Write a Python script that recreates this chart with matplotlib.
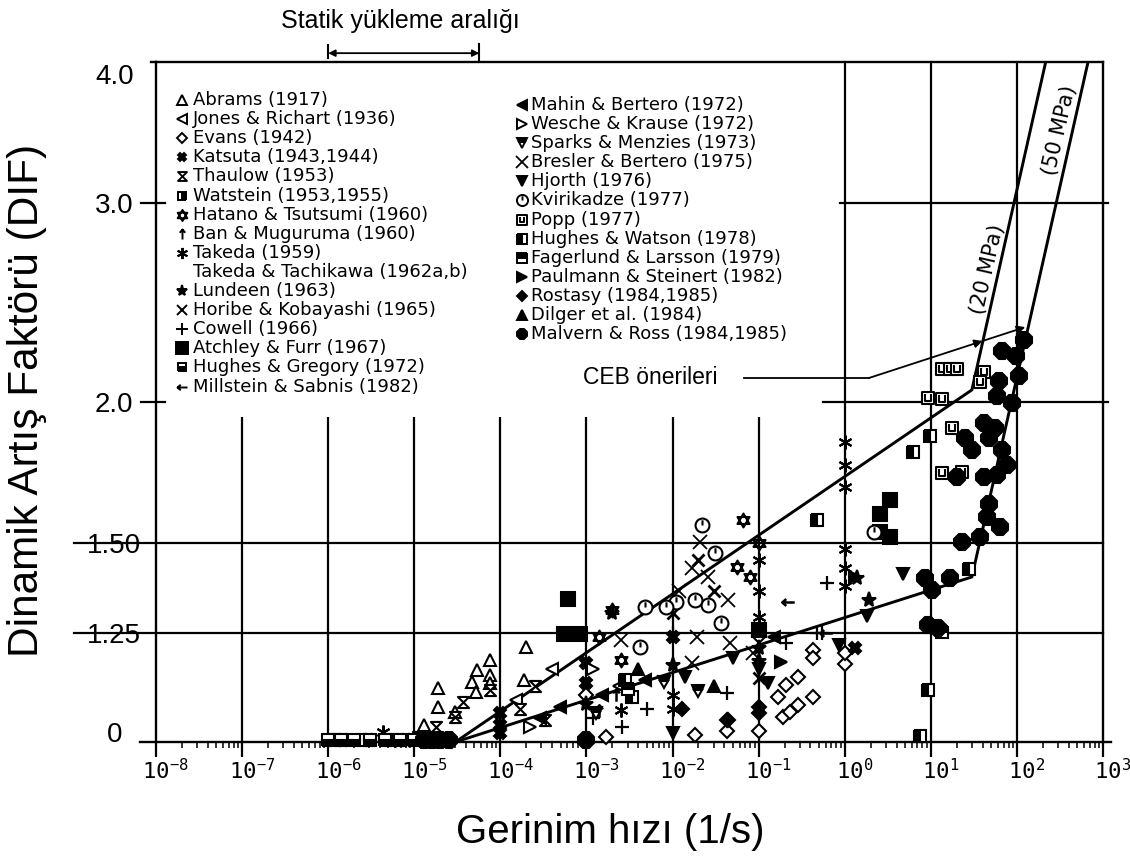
import numpy as np
import matplotlib.pyplot as plt
import matplotlib.transforms as mtransforms
from matplotlib.path import Path
from matplotlib.ticker import LogLocator, NullFormatter, NullLocator

plt.rcParams['font.family'] = ['Liberation Sans', 'DejaVu Sans']
plt.rcParams['mathtext.fontset'] = 'custom'
plt.rcParams['mathtext.rm'] = 'DejaVu Sans Mono'
plt.rcParams['mathtext.it'] = 'DejaVu Sans Mono'

# strain rate (1/s) and DIF values
abrams_x = [1.9e-5, 1.9e-5, 1.3e-5, 7.6e-5, 5.4e-5, 7.6e-5, 4.7e-5, 5.2e-5, 7.6e-5, 1.9e-4, 2.0e-4, 3.0e-5]
abrams_y = [1.116, 1.074, 1.035, 1.182, 1.158, 1.146, 1.130, 1.107, 1.128, 1.135, 1.214, 1.063]
jones_x = [1.5e-4, 4.0e-4, 2.4e-3]
jones_y = [1.09, 1.16, 1.12]
evans_x = [0.17, 0.21, 0.29, 0.19, 0.23, 0.29, 0.43, 0.43, 0.43, 1.0, 1.7e-3, 0.018, 0.1, 0.043, 0.1, 1.0, 1.0e-3, 0.043]
evans_y = [1.096, 1.123, 1.142, 1.052, 1.063, 1.078, 1.096, 1.206, 1.187, 1.172, 1.010, 1.015, 1.023, 1.022, 1.24, 1.20, 1.10, 1.045]
katsuta_x = [1e-4, 1e-4, 1e-4, 1e-3, 1e-3, 1e-2, 1.3, 1.5e-6, 3.0e-6, 8.0e-6]
katsuta_y = [1.061, 1.035, 1.019, 1.175, 1.128, 1.239, 1.21, 1.005, 1.005, 1.005]
thaulow_x = [3.7e-5, 3.0e-5, 1.8e-5, 7.6e-5, 1.7e-4, 3.3e-4, 1.1e-5, 2.5e-4]
thaulow_y = [1.085, 1.052, 1.031, 1.112, 1.07, 1.046, 1.01, 1.12]
watstein_x = [1.2e-6, 2.6e-6, 5.5e-6]
watstein_y = [1.005, 1.005, 1.005]
hatano_x = [0.066, 2.0e-3, 0.056, 0.08, 2.5e-3, 1.4e-3, 0.1]
hatano_y = [1.572, 1.309, 1.429, 1.40, 1.182, 1.239, 1.50]
ban_x = [1.4e-3, 2.2e-3]
ban_y = [1.065, 1.10]
takeda_x = [1.0, 1.0, 1.0, 1.0, 1.0, 1.0, 0.1, 0.1, 0.1, 0.01, 0.01, 2.5e-3, 4.3e-6, 6.0e-6]
takeda_y = [1.844, 1.759, 1.683, 1.482, 1.426, 1.374, 1.45, 1.36, 1.29, 1.10, 1.07, 1.067, 1.02, 1.005]
lundeen_x = [1.4, 1.9, 0.1, 0.1, 0.01, 1e-3, 2.0e-3]
lundeen_y = [1.397, 1.336, 1.21, 1.18, 1.17, 1.08, 1.30]
horibe_x = [0.02, 0.03, 0.1, 0.01]
horibe_y = [1.45, 1.36, 1.14, 1.30]
cowell_x = [0.043, 0.21, 0.62, 0.48, 0.55, 2.6e-3, 0.01, 1.2e-3, 5.0e-3]
cowell_y = [1.105, 1.224, 1.383, 1.249, 1.249, 1.031, 1.25, 1.05, 1.07]
atchley_x = [6.1e-4, 5.5e-4, 8.5e-4, 3.4, 2.6, 3.4, 2.6, 0.1]
atchley_y = [1.339, 1.247, 1.247, 1.638, 1.592, 1.518, 1.534, 1.256]
gregory_x = [1.0e-6, 1.4e-6, 2.0e-6, 3.1e-6, 4.6e-6, 6.8e-6, 1.0e-5]
gregory_y = [1.005, 1.005, 1.005, 1.005, 1.005, 1.005, 1.005]
millstein_x = [0.22, 0.6]
millstein_y = [1.33, 1.25]
mahin_x = [4.9e-4, 4.8e-3, 0.15, 2.9e-4, 1.5e-3]
mahin_y = [1.074, 1.135, 1.239, 1.05, 1.10]
wesche_x = [2.2e-4, 1.2e-3]
wesche_y = [1.031, 1.16]
sparks_x = [1.3e-3, 0.02, 0.008]
sparks_y = [1.06, 1.11, 1.13]
bresler_x = [0.017, 0.044, 0.019, 0.046, 0.017, 0.086, 0.021, 0.026, 2.5e-3, 0.012]
bresler_y = [1.426, 1.336, 1.239, 1.224, 1.175, 1.199, 1.503, 1.40, 1.231, 1.36]
hjorth_x = [4.8, 1.8, 0.85, 0.13, 0.05, 0.014, 0.01, 0.1]
hjorth_y = [1.408, 1.293, 1.219, 1.128, 1.187, 1.142, 1.019, 1.16]
kviri_x = [0.022, 0.031, 4.2e-3, 0.026, 0.018, 0.011, 0.037, 8.5e-3, 4.8e-3, 2.2]
kviri_y = [1.556, 1.47, 1.214, 1.322, 1.336, 1.33, 1.275, 1.317, 1.317, 1.534]
popp_x = [13.5, 16.6, 20, 42, 37, 9.3, 13.5, 17.6, 13.5, 23]
popp_y = [2.139, 2.139, 2.139, 2.126, 2.084, 2.017, 2.013, 1.897, 1.731, 1.734]
hwatson_x = [0.48, 2.8e-3, 3.4e-3, 9.8, 6.2, 9.3, 7.5, 28]
hwatson_y = [1.572, 1.135, 1.096, 1.866, 1.807, 1.112, 1.012, 1.423]
fager_x = [13.5, 3.0e-3]
fager_y = [1.251, 1.115]
paulmann_x = [0.18, 1.3]
paulmann_y = [1.178, 1.40]
rostasy_x = [0.044, 0.1, 0.1, 0.013]
rostasy_y = [1.046, 1.061, 1.074, 1.07]
dilger_x = [4.0e-3, 0.03]
dilger_y = [1.16, 1.12]
malvern_x = [120, 67, 97, 105, 62, 59, 87, 42, 55, 25, 30, 47, 67, 76, 20, 42, 59, 47, 45, 63, 37, 23,
             8.5, 10.3, 16.6, 9.3, 12, 1.3e-5, 1.6e-5, 2.0e-5, 2.5e-5, 1e-3]
malvern_y = [2.27, 2.22, 2.196, 2.109, 2.088, 2.025, 1.997, 1.917, 1.897, 1.859, 1.814, 1.859, 1.814, 1.759,
             1.717, 1.717, 1.724, 1.625, 1.582, 1.55, 1.518, 1.503, 1.397, 1.363, 1.397, 1.269, 1.262,
             1.005, 1.005, 1.005, 1.005, 1.005]

# CEB recommendation curves
ceb20_x = [3e-5, 30, 216]
ceb20_y = [1.0, 2.05, 4.0]
ceb50_x = [3e-5, 30, 670]
ceb50_y = [1.0, 1.40, 4.0]

x_ticks = [1e-8, 1e-7, 1e-6, 1e-5, 1e-4, 1e-3, 1e-2, 1e-1, 1e0, 1e1, 1e2, 1e3]
x_labels = [r'$10^{%d}$' % k for k in range(-8, 4)]
y_ticks = [1.0, 1.25, 1.5, 2.0, 3.0, 4.0]
y_labels = ['0', '1.25', '1.50', '2.0', '3.0', '4.0']

# custom marker shapes
M, L, C = Path.MOVETO, Path.LINETO, Path.CLOSEPOLY
hourglass = Path([(-1, 1), (1, 1), (-1, -1), (1, -1), (-1, 1)], [M, L, L, L, C])
h = np.sqrt(3) / 2
star6 = Path([(0, 1), (-h, -0.5), (h, -0.5), (0, 1), (0, -1), (-h, 0.5), (h, 0.5), (0, -1)],
             [M, L, L, C, M, L, L, C])
clock = Path.make_compound_path(Path.unit_circle(), Path([(0, 0), (0, 0.75)], [M, L]))
up_arrow = Path([(0, -1), (0, 1), (-0.55, 0.35), (0, 1), (0.55, 0.35)], [M, L, M, L, L])
left_arrow = Path([(1, 0), (-1, 0), (-0.35, 0.55), (-1, 0), (-0.35, -0.55)], [M, L, M, L, L])
popp_sq = Path.make_compound_path(
    Path([(-1, -1), (1, -1), (1, 1), (-1, 1), (-1, -1)], [M, L, L, L, C]),
    Path([(-0.45, 0.6), (-0.45, -0.4), (0.45, -0.4), (0.45, 0.6)], [M, L, L, L]))

W = 'white'
styles = {
    'Abrams (1917)': dict(marker='^', mfc=W),
    'Jones & Richart (1936)': dict(marker='<', mfc=W),
    'Evans (1942)': dict(marker='D', mfc=W, ms=7),
    'Katsuta (1943,1944)': dict(marker='X', mfc='k', ms=8),
    'Thaulow (1953)': dict(marker=hourglass, mfc=W, ms=8),
    'Watstein (1953,1955)': dict(marker='s', mfc='k', fillstyle='right', ms=8),
    'Hatano & Tsutsumi (1960)': dict(marker=star6, mfc=W, ms=10),
    'Ban & Muguruma (1960)': dict(marker=up_arrow, mfc='none', mew=1.8),
    'Takeda (1959)': dict(marker=(6, 2, 0), mfc='none', ms=10),
    'Takeda & Tachikawa (1962a,b)': None,
    'Lundeen (1963)': dict(marker='*', mfc='k', ms=11),
    'Horibe & Kobayashi (1965)': dict(marker='x', mfc='none', mew=2.0),
    'Cowell (1966)': dict(marker='+', mfc='none', mew=1.6, ms=10),
    'Atchley & Furr (1967)': dict(marker='s', mfc='k', ms=10),
    'Hughes & Gregory (1972)': dict(marker='s', mfc='k', fillstyle='bottom', ms=8),
    'Millstein & Sabnis (1982)': dict(marker=left_arrow, mfc='none', mew=1.8),
    'Mahin & Bertero (1972)': dict(marker='<', mfc='k'),
    'Wesche & Krause (1972)': dict(marker='>', mfc=W),
    'Sparks & Menzies (1973)': dict(marker='v', mfc='k', fillstyle='top'),
    'Bresler & Bertero (1975)': dict(marker='x', mfc='none', mew=1.3, ms=10),
    'Hjorth (1976)': dict(marker='v', mfc='k'),
    'Kvirikadze (1977)': dict(marker=clock, mfc=W, ms=10),
    'Popp (1977)': dict(marker=popp_sq, mfc=W, ms=9),
    'Hughes & Watson (1978)': dict(marker='s', mfc='k', fillstyle='left', ms=9),
    'Fagerlund & Larsson (1979)': dict(marker='s', mfc='k', fillstyle='top', ms=9),
    'Paulmann & Steinert (1982)': dict(marker='>', mfc='k'),
    'Rostasy (1984,1985)': dict(marker='D', mfc='k', ms=7),
    'Dilger et al. (1984)': dict(marker='^', mfc='k'),
    'Malvern & Ross (1984,1985)': dict(marker='8', mfc='k', ms=12),
}

data = {
    'Abrams (1917)': (abrams_x, abrams_y),
    'Jones & Richart (1936)': (jones_x, jones_y),
    'Evans (1942)': (evans_x, evans_y),
    'Katsuta (1943,1944)': (katsuta_x, katsuta_y),
    'Thaulow (1953)': (thaulow_x, thaulow_y),
    'Watstein (1953,1955)': (watstein_x, watstein_y),
    'Hatano & Tsutsumi (1960)': (hatano_x, hatano_y),
    'Ban & Muguruma (1960)': (ban_x, ban_y),
    'Takeda (1959)': (takeda_x, takeda_y),
    'Lundeen (1963)': (lundeen_x, lundeen_y),
    'Horibe & Kobayashi (1965)': (horibe_x, horibe_y),
    'Cowell (1966)': (cowell_x, cowell_y),
    'Atchley & Furr (1967)': (atchley_x, atchley_y),
    'Hughes & Gregory (1972)': (gregory_x, gregory_y),
    'Millstein & Sabnis (1982)': (millstein_x, millstein_y),
    'Mahin & Bertero (1972)': (mahin_x, mahin_y),
    'Wesche & Krause (1972)': (wesche_x, wesche_y),
    'Sparks & Menzies (1973)': (sparks_x, sparks_y),
    'Bresler & Bertero (1975)': (bresler_x, bresler_y),
    'Hjorth (1976)': (hjorth_x, hjorth_y),
    'Kvirikadze (1977)': (kviri_x, kviri_y),
    'Popp (1977)': (popp_x, popp_y),
    'Hughes & Watson (1978)': (hwatson_x, hwatson_y),
    'Fagerlund & Larsson (1979)': (fager_x, fager_y),
    'Paulmann & Steinert (1982)': (paulmann_x, paulmann_y),
    'Rostasy (1984,1985)': (rostasy_x, rostasy_y),
    'Dilger et al. (1984)': (dilger_x, dilger_y),
    'Malvern & Ross (1984,1985)': (malvern_x, malvern_y),
}

left_col = ['Abrams (1917)', 'Jones & Richart (1936)', 'Evans (1942)', 'Katsuta (1943,1944)',
            'Thaulow (1953)', 'Watstein (1953,1955)', 'Hatano & Tsutsumi (1960)',
            'Ban & Muguruma (1960)', 'Takeda (1959)', 'Takeda & Tachikawa (1962a,b)',
            'Lundeen (1963)', 'Horibe & Kobayashi (1965)', 'Cowell (1966)',
            'Atchley & Furr (1967)', 'Hughes & Gregory (1972)', 'Millstein & Sabnis (1982)']
right_col = ['Mahin & Bertero (1972)', 'Wesche & Krause (1972)', 'Sparks & Menzies (1973)',
             'Bresler & Bertero (1975)', 'Hjorth (1976)', 'Kvirikadze (1977)', 'Popp (1977)',
             'Hughes & Watson (1978)', 'Fagerlund & Larsson (1979)', 'Paulmann & Steinert (1982)',
             'Rostasy (1984,1985)', 'Dilger et al. (1984)', 'Malvern & Ross (1984,1985)']


def mk(st, legend=False):
    kw = dict(ls='none', mec='k', mew=1.5, ms=9, markerfacecoloralt='white')
    kw.update(st)
    if legend:
        kw['ms'] = min(kw['ms'] * 0.8, 8)
        kw['mew'] = min(kw['mew'], 1.4)
    return kw


fig = plt.figure(figsize=(11.3, 8.57), dpi=100)
ax = fig.add_axes([156 / 1130, 115 / 857, 947 / 1130, 680 / 857])
ax.set_xscale('log')
ax.set_yscale('log')
ax.set_xlim(1e-8, 1e3)
ax.set_ylim(1.0, 4.0)
for s in ax.spines.values():
    s.set_linewidth(1.7)

LW = 1.6
# grid lines: short ones below the legend, full ones at the right
for d in x_ticks[1:8]:
    ax.vlines(d, 1.0, 1.94, color='k', lw=LW)
for d in x_ticks[8:11]:
    ax.vlines(d, 1.0, 4.0, color='k', lw=LW)
yt = ax.get_yaxis_transform()
ax.plot([-0.087, 1.0], [1.25, 1.25], transform=yt, color='k', lw=LW, clip_on=False)
ax.plot([-0.087, 1.0], [1.5, 1.5], transform=yt, color='k', lw=LW, clip_on=False)
ax.plot([0.704, 1.005], [2.0, 2.0], transform=yt, color='k', lw=LW, clip_on=False)
ax.plot([0.722, 1.005], [3.0, 3.0], transform=yt, color='k', lw=LW, clip_on=False)
for v in [2.0, 3.0]:
    ax.plot([-0.016, 0.01], [v, v], transform=yt, color='k', lw=LW, clip_on=False)
ax.plot([-0.017, 0.0], [1.0, 1.0], transform=yt, color='k', lw=1.7, clip_on=False)
ax.plot([1.0, 1.008], [1.0, 1.0], transform=yt, color='k', lw=1.7, clip_on=False)
ax.plot([-0.005, 0.0], [4.0, 4.0], transform=yt, color='k', lw=1.7, clip_on=False)

# CEB lines
ax.plot(ceb20_x, ceb20_y, color='k', lw=2.1, zorder=2)
ax.plot(ceb50_x, ceb50_y, color='k', lw=2.1, zorder=2)
ax.text(45, 2.62, '(20 MPa)', rotation=77, ha='center', va='center', fontsize=15,
        family='DejaVu Sans', rotation_mode='anchor')
ax.text(316, 3.48, '(50 MPa)', rotation=77, ha='center', va='center', fontsize=15,
        family='DejaVu Sans', rotation_mode='anchor')

# CEB pointer arrow
ax.plot([0.068, 1.9], [2.10, 2.10], color='k', lw=1.3)
ap = dict(arrowstyle='-|>', mutation_scale=12, lw=1.3, color='k', shrinkA=0, shrinkB=0)
ax.annotate('', xy=(40, 2.265), xytext=(1.9, 2.10), arrowprops=ap)
ax.annotate('', xy=(125, 2.33), xytext=(40, 2.265), arrowprops=ap)
fig.text(583 / 1130, 1 - 378 / 857, 'CEB önerileri', ha='left', va='center', fontsize=16.5)

# data points
for name, (xs, ys) in data.items():
    ax.plot(xs, ys, zorder=3, clip_on=False, **mk(styles[name]))

# legend, drawn by hand in two columns
step = 19.1 / 680
for col, x_m, x_t, y0 in [(left_col, 0.0275, 0.039, 0.9441), (right_col, 0.3865, 0.396, 0.9368)]:
    for i, name in enumerate(col):
        yy = y0 - i * step
        if styles[name] is not None:
            ax.plot([x_m], [yy], transform=ax.transAxes, zorder=4, **mk(styles[name], legend=True))
        ax.text(x_t, yy, name, transform=ax.transAxes, ha='left', va='center',
                fontsize=13, family='DejaVu Sans')

# static loading range bracket above the frame
bt = ax.get_xaxis_transform()
ax.annotate('', xy=(1e-6, 1.013), xytext=(5.7e-5, 1.013), xycoords=bt, textcoords=bt,
            arrowprops=dict(arrowstyle='<|-|>', mutation_scale=10, lw=1.3, color='k',
                            shrinkA=0, shrinkB=0), annotation_clip=False)
ax.plot([1e-6, 1e-6], [1.006, 1.025], transform=bt, color='k', lw=1.5, clip_on=False)
ax.plot([5.7e-5, 5.7e-5], [1.0, 1.027], transform=bt, color='k', lw=1.5, clip_on=False)
fig.text(400 / 1130, 1 - 21 / 857, 'Statik yükleme aralığı', ha='center', va='center', fontsize=18)

# ticks
ax.set_xticks(x_ticks)
ax.set_xticklabels(x_labels, fontsize=16)
ax.xaxis.set_minor_locator(LogLocator(base=10, subs=np.arange(2, 10), numticks=30))
ax.xaxis.set_minor_formatter(NullFormatter())
ax.tick_params(axis='x', which='major', direction='out', length=11, width=1.6, pad=1.5)
ax.tick_params(axis='x', which='minor', direction='out', length=4, width=1.1)
ax.set_yticks(y_ticks)
ax.set_yticklabels(y_labels, fontsize=20)
ax.yaxis.set_minor_locator(NullLocator())
ax.yaxis.set_minor_formatter(NullFormatter())
ax.tick_params(axis='y', which='both', length=0, pad=30)
shift = {'0': 7, '4.0': -9}
for lab in ax.get_yticklabels():
    lab.set_horizontalalignment('center')
    dy = shift.get(lab.get_text(), 0)
    if dy:
        lab.set_transform(lab.get_transform() +
                          mtransforms.ScaledTranslation(0, dy / 72, fig.dpi_scale_trans))
offset = mtransforms.ScaledTranslation(7 / 72, 0, fig.dpi_scale_trans)
for lab in ax.get_xticklabels():
    lab.set_transform(lab.get_transform() + offset)

fig.text(27 / 1130, 1 - 400 / 857, 'Dinamik Artış Faktörü (DIF)', rotation=90,
         ha='center', va='center', fontsize=30.5)
fig.text(610 / 1130, 1 - 832 / 857, 'Gerinim hızı (1/s)', ha='center', va='center', fontsize=29)

fig.savefig('out.png', dpi=100)
